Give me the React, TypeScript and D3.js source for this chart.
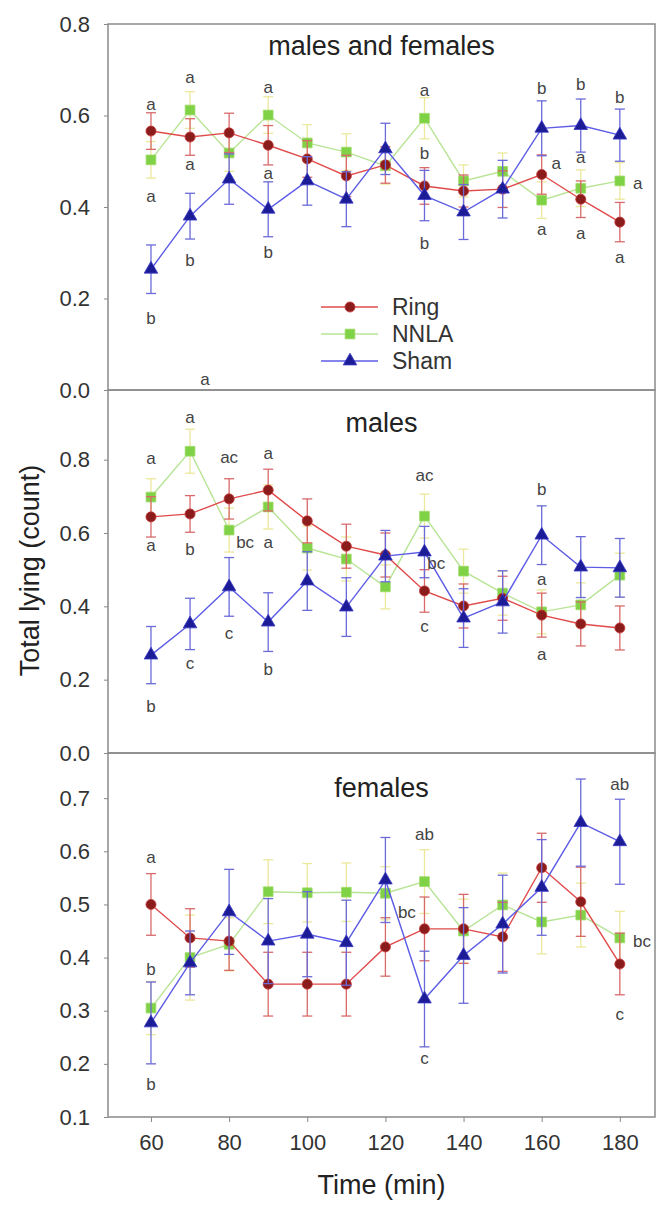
import React, { useEffect, useRef } from 'react'
import * as d3 from 'd3'

// sampling times (min)
const times = [60, 70, 80, 90, 100, 110, 120, 130, 140, 150, 160, 170, 180]
const xTicks = [60, 80, 100, 120, 140, 160, 180]

// males and females
const ringAll = [0.566, 0.553, 0.562, 0.535, 0.505, 0.468, 0.492, 0.446, 0.435, 0.439, 0.471, 0.417, 0.367]
const ringAllSe = [0.04, 0.04, 0.043, 0.043, 0.04, 0.045, 0.04, 0.04, 0.035, 0.04, 0.043, 0.04, 0.043]
const nnlaAll = [0.503, 0.612, 0.518, 0.601, 0.54, 0.52, 0.49, 0.594, 0.457, 0.478, 0.415, 0.441, 0.457]
const nnlaAllSe = [0.04, 0.04, 0.04, 0.04, 0.04, 0.04, 0.04, 0.045, 0.035, 0.04, 0.04, 0.04, 0.04]
const shamAll = [0.264, 0.38, 0.461, 0.395, 0.457, 0.417, 0.527, 0.425, 0.389, 0.439, 0.572, 0.578, 0.557]
const shamAllSe = [0.053, 0.05, 0.055, 0.06, 0.053, 0.06, 0.056, 0.055, 0.06, 0.063, 0.06, 0.058, 0.057]

// males
const ringM = [0.644, 0.652, 0.693, 0.717, 0.633, 0.564, 0.54, 0.442, 0.401, 0.422, 0.376, 0.352, 0.341]
const ringMSe = [0.055, 0.05, 0.055, 0.057, 0.06, 0.06, 0.06, 0.058, 0.06, 0.06, 0.06, 0.06, 0.06]
const nnlaM = [0.698, 0.823, 0.608, 0.671, 0.559, 0.529, 0.453, 0.646, 0.496, 0.436, 0.385, 0.404, 0.485]
const nnlaMSe = [0.05, 0.06, 0.06, 0.06, 0.06, 0.06, 0.06, 0.06, 0.06, 0.06, 0.06, 0.06, 0.06]
const shamM = [0.267, 0.352, 0.453, 0.357, 0.469, 0.398, 0.537, 0.548, 0.368, 0.412, 0.594, 0.507, 0.505]
const shamMSe = [0.078, 0.07, 0.08, 0.08, 0.08, 0.08, 0.07, 0.07, 0.08, 0.085, 0.08, 0.083, 0.08]

// females
const ringF = [0.5, 0.437, 0.431, 0.35, 0.35, 0.35, 0.42, 0.454, 0.454, 0.439, 0.569, 0.505, 0.388]
const ringFSe = [0.058, 0.055, 0.055, 0.06, 0.06, 0.06, 0.055, 0.06, 0.065, 0.065, 0.065, 0.065, 0.058]
const nnlaF = [0.305, 0.4, 0.425, 0.524, 0.522, 0.523, 0.521, 0.543, 0.45, 0.499, 0.467, 0.48, 0.437]
const nnlaFSe = [0.05, 0.08, 0.05, 0.06, 0.055, 0.055, 0.05, 0.06, 0.06, 0.06, 0.06, 0.06, 0.05]
const shamF = [0.277, 0.39, 0.486, 0.431, 0.444, 0.428, 0.546, 0.322, 0.404, 0.463, 0.532, 0.654, 0.618]
const shamFSe = [0.077, 0.06, 0.08, 0.08, 0.08, 0.08, 0.08, 0.09, 0.09, 0.092, 0.09, 0.082, 0.08]

// significance letters: [time, value, label]
const lettersAll: [number, number, string][] = [
    [60, 0.625, 'a'], [70, 0.684, 'a'], [90, 0.662, 'a'], [130, 0.654, 'a'],
    [160, 0.66, 'b'], [170, 0.667, 'b'], [180, 0.64, 'b'],
    [70, 0.492, 'a'], [90, 0.474, 'a'], [130, 0.516, 'b'],
    [163.7, 0.496, 'a'], [170, 0.509, 'a'], [184.6, 0.452, 'a'],
    [60, 0.422, 'a'], [70, 0.284, 'b'], [90, 0.3, 'b'], [130, 0.321, 'b'],
    [160, 0.35, 'a'], [170, 0.343, 'a'], [180, 0.289, 'a'],
    [60, 0.157, 'b'], [73.8, 0.022, 'a'],
]
const lettersM: [number, number, string][] = [
    [60, 0.802, 'a'], [70, 0.914, 'a'], [80, 0.807, 'ac'], [90, 0.818, 'a'],
    [130, 0.758, 'ac'], [160, 0.72, 'b'],
    [60, 0.567, 'a'], [70, 0.554, 'b'], [84.1, 0.573, 'bc'], [90, 0.573, 'a'],
    [133, 0.518, 'bc'], [80, 0.327, 'c'], [70, 0.243, 'c'], [90, 0.229, 'b'],
    [60, 0.128, 'b'], [130, 0.344, 'c'], [160, 0.472, 'a'], [160, 0.27, 'a'],
]
const lettersF: [number, number, string][] = [
    [60, 0.588, 'a'], [130, 0.631, 'ab'], [180, 0.725, 'ab'],
    [125.5, 0.484, 'bc'], [185.7, 0.43, 'bc'], [60, 0.377, 'b'],
    [60, 0.162, 'b'], [130, 0.211, 'c'], [180, 0.292, 'c'],
]

const groups = ['Ring', 'NNLA', 'Sham']

const W = 658
const H = 1207
const left = 108
const right = 655
const font = 'Liberation Sans, Arial, sans-serif'

const styles: Record<string, { line: string; err: string; fill: string; stroke: string; sym: d3.SymbolType; size: number }> = {
    Ring: { line: '#e04a4a', err: '#d86a6a', fill: '#8a1c1c', stroke: '#c83a3a', sym: d3.symbolCircle, size: 80 },
    NNLA: { line: '#b8e496', err: '#ece89c', fill: '#7fd145', stroke: '#9fdc6a', sym: d3.symbolSquare, size: 95 },
    Sham: { line: '#5c5ce6', err: '#6a6ad8', fill: '#1c1c96', stroke: '#3a3ac8', sym: d3.symbolTriangle, size: 80 },
}

const panels = [
    { title: 'males and females', top: 24, bottom: 390, domain: [0, 0.8], ticks: [0, 0.2, 0.4, 0.6, 0.8], titleY: 55,
      series: { Ring: [ringAll, ringAllSe], NNLA: [nnlaAll, nnlaAllSe], Sham: [shamAll, shamAllSe] }, letters: lettersAll },
    { title: 'males', top: 390, bottom: 753, domain: [0, 0.99], ticks: [0, 0.2, 0.4, 0.6, 0.8], titleY: 432,
      series: { Ring: [ringM, ringMSe], NNLA: [nnlaM, nnlaMSe], Sham: [shamM, shamMSe] }, letters: lettersM },
    { title: 'females', top: 753, bottom: 1117, domain: [0.1, 0.785], ticks: [0.1, 0.2, 0.3, 0.4, 0.5, 0.6, 0.7], titleY: 797,
      series: { Ring: [ringF, ringFSe], NNLA: [nnlaF, nnlaFSe], Sham: [shamF, shamFSe] }, letters: lettersF },
]

const App: React.FC = () => {
    const svgRef = useRef<SVGSVGElement | null>(null)

    useEffect(() => {
        if (!svgRef.current) return
        const svg = d3.select(svgRef.current)
        svg.selectAll('*').remove()

        const x = d3.scaleLinear().domain([49, 189]).range([left, right])

        panels.forEach((p, pi) => {
            const y = d3.scaleLinear().domain(p.domain).range([p.bottom, p.top])
            const g = svg.append('g')

            // y axis ticks + labels
            const ya = g.append('g')
                .attr('transform', `translate(${left},0)`)
                .call(d3.axisLeft(y).tickValues(p.ticks).tickSize(4).tickPadding(14).tickFormat(d3.format('.1f')))
            ya.select('.domain').remove()
            ya.selectAll('line').attr('stroke', '#888')
            ya.selectAll('text').attr('font-size', 22).attr('font-family', font).attr('fill', '#333')

            // frame
            g.append('rect')
                .attr('x', left).attr('y', p.top)
                .attr('width', right - left).attr('height', p.bottom - p.top)
                .attr('fill', 'none').attr('stroke', '#8a8a8a').attr('stroke-width', 1.5)

            g.append('text')
                .attr('x', (left + right) / 2).attr('y', p.titleY)
                .attr('text-anchor', 'middle').attr('font-size', 27).attr('font-family', font).attr('fill', '#222')
                .text(p.title)

            const order = ['NNLA', 'Ring', 'Sham']
            order.forEach((name) => {
                const [vals, se] = (p.series as any)[name] as number[][]
                const st = styles[name]
                const pts = times.map((t, i) => ({ t, v: vals[i], e: se[i] }))
                const eg = g.append('g').attr('stroke', st.err).attr('stroke-width', 1.3)
                pts.forEach((d) => {
                    eg.append('line').attr('x1', x(d.t)).attr('x2', x(d.t)).attr('y1', y(d.v - d.e)).attr('y2', y(d.v + d.e))
                    ;[d.v - d.e, d.v + d.e].forEach((c) => {
                        eg.append('line').attr('x1', x(d.t) - 5).attr('x2', x(d.t) + 5).attr('y1', y(c)).attr('y2', y(c))
                    })
                })
                g.append('path')
                    .datum(pts)
                    .attr('fill', 'none').attr('stroke', st.line).attr('stroke-width', 1.4)
                    .attr('d', d3.line<any>().x((d) => x(d.t)).y((d) => y(d.v)))
                g.selectAll(null)
                    .data(pts)
                    .enter()
                    .append('path')
                    .attr('transform', (d) => `translate(${x(d.t)},${y(d.v)})`)
                    .attr('d', d3.symbol().type(st.sym).size(st.size)())
                    .attr('fill', st.fill).attr('stroke', st.stroke).attr('stroke-width', 0.8)
            })

            g.selectAll(null)
                .data(p.letters)
                .enter()
                .append('text')
                .attr('x', (d) => x(d[0])).attr('y', (d) => y(d[1]))
                .attr('text-anchor', 'middle').attr('dominant-baseline', 'central')
                .attr('font-size', 17).attr('font-family', font).attr('fill', '#444')
                .text((d) => d[2])

            if (pi === 2) {
                const xa = g.append('g')
                    .attr('transform', `translate(0,${p.bottom})`)
                    .call(d3.axisBottom(x).tickValues(xTicks).tickSize(5).tickPadding(12))
                xa.select('.domain').remove()
                xa.selectAll('line').attr('stroke', '#888')
                xa.selectAll('text').attr('font-size', 22).attr('font-family', font).attr('fill', '#333')
            }

            if (pi === 0) {
                const lg = g.append('g')
                groups.forEach((name, i) => {
                    const st = styles[name]
                    const ly = 307 + i * 27
                    lg.append('line').attr('x1', 321).attr('x2', 378).attr('y1', ly).attr('y2', ly)
                        .attr('stroke', st.line).attr('stroke-width', 1.4)
                    lg.append('path').attr('transform', `translate(350,${ly})`)
                        .attr('d', d3.symbol().type(st.sym).size(st.size)())
                        .attr('fill', st.fill).attr('stroke', st.stroke).attr('stroke-width', 0.8)
                    lg.append('text').attr('x', 392).attr('y', ly)
                        .attr('dominant-baseline', 'central').attr('font-size', 23).attr('font-family', font).attr('fill', '#333')
                        .text(name)
                })
            }
        })

        svg.append('text')
            .attr('x', (left + right) / 2).attr('y', 1194)
            .attr('text-anchor', 'middle').attr('font-size', 27).attr('font-family', font).attr('fill', '#222')
            .text('Time (min)')

        svg.append('text')
            .attr('transform', `translate(30,${(24 + 1117) / 2}) rotate(-90)`)
            .attr('text-anchor', 'middle').attr('dominant-baseline', 'central')
            .attr('font-size', 27).attr('font-family', font).attr('fill', '#222')
            .text('Total lying (count)')
    }, [])

    return (
        <svg
            ref={svgRef}
            width={W}
            height={H}
            style={{ position: 'absolute', left: 0, top: 0, background: '#fff' }}
        />
    )
}

export default App
